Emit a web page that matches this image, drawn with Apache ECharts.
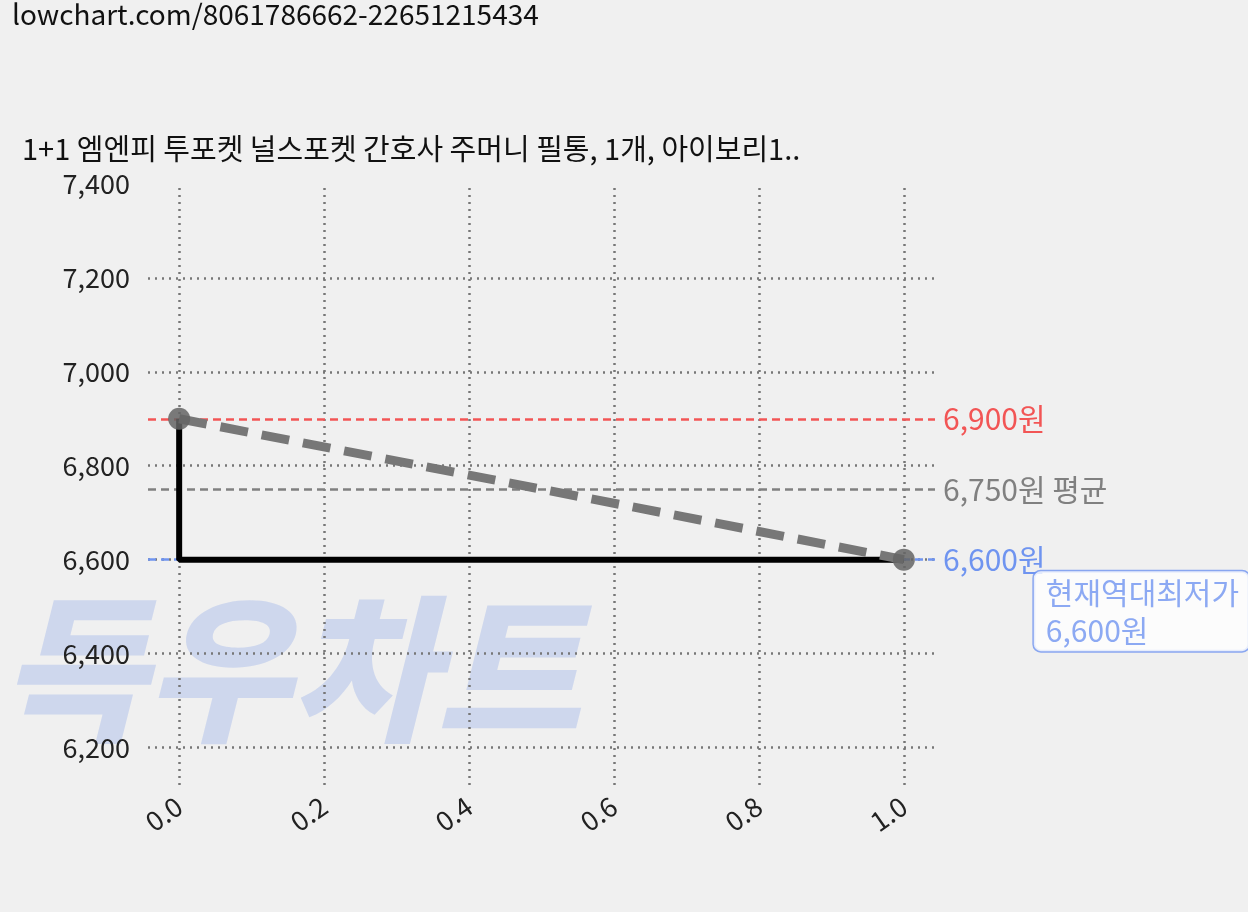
<!DOCTYPE html><html><head><meta charset="utf-8"><script src="https://cdn.jsdelivr.net/npm/echarts@6/dist/echarts.min.js"></script>
<style>body{margin:0;background:#f0f0f0}#c{width:1248px;height:912px}</style></head><body><div id="c"></div><script>
const xTicks=[0,0.2,0.4,0.6,0.8,1.0];
const yTicks=[6200,6400,6600,6800,7000,7200,7400];
const stepLine=[[0,6900],[0,6600],[1,6600]];
const trend=[[0,6900],[1,6600]];
const maxPrice=6900, avgPrice=6750, minPrice=6600;
const title='1+1 엠엔피 투포켓 널스포켓 간호사 주머니 필통, 1개, 아이보리1..';
const F='"Noto Sans CJK KR","Noto Sans",sans-serif';
const chart=echarts.init(document.getElementById('c'));
const dot={type:[2,5],color:'#777',width:2.5};
chart.setOption({
backgroundColor:'#f0f0f0',animation:false,
graphic:[
{type:'text',left:12,top:0,style:{text:'lowchart.com/8061786662-22651215434',font:'28px '+F,fill:'#111',letterSpacing:2}},
{type:'text',left:22,top:134,style:{text:title,font:'29px '+F,fill:'#111',letterSpacing:3.5}},
{type:'text',left:0,top:590,z:-1,style:{text:'득우차트',font:'italic 900 158px '+F,fill:'rgba(120,150,230,0.28)'}}
],
grid:{left:148,right:313,top:184,bottom:127},
xAxis:{type:'value',min:-0.043,max:1.043,splitLine:{show:false},axisLine:{show:false},axisTick:{show:false},
 axisLabel:{customValues:xTicks,rotate:35,fontSize:27,color:'#222',fontFamily:F,margin:18,formatter:v=>v.toFixed(1)}},
yAxis:{type:'value',min:6120,max:7400,splitLine:{show:false},axisLine:{show:false},axisTick:{show:false},
 axisLabel:{customValues:yTicks,fontSize:27,color:'#222',fontFamily:F,margin:18,formatter:v=>v.toLocaleString('en-US')}},
series:[
{type:'line',data:[],z:1,markLine:{silent:true,z:1,symbol:'none',label:{show:false},lineStyle:dot,
 data:xTicks.map(v=>({xAxis:v})).concat(yTicks.filter(v=>v<7400).map(v=>({yAxis:v})))}},
{type:'line',data:stepLine,symbol:'none',lineStyle:{color:'#000',width:6},z:5},
{type:'line',data:trend,symbol:'circle',symbolSize:22,itemStyle:{color:'rgba(100,100,100,0.85)'},lineStyle:{color:'#777',width:9,type:[28,14]},z:6,
 markLine:{silent:true,z:3,symbol:'none',label:{position:'end',fontSize:30,fontFamily:F,distance:8},
 data:[
 {yAxis:maxPrice,lineStyle:{color:'#f25555',type:[8,5],width:2.5},label:{color:'#f25555',formatter:'6,900원'}},
 {yAxis:avgPrice,lineStyle:{color:'#808080',type:[8,5],width:2.5},label:{color:'#808080',formatter:'6,750원 평균'}},
 {yAxis:minPrice,lineStyle:{color:'#6f94f0',type:[8,5],width:2.5},label:{color:'#6f94f0',formatter:'6,600원'}}
 ]}},
{type:'scatter',data:[[1,6600]],symbolSize:1,itemStyle:{color:'transparent'},z:7,
 label:{show:true,position:'bottom',offset:[130,6],formatter:'현재역대최저가\n6,600원',align:'left',
 color:'#6f94f0',fontSize:30,fontFamily:F,lineHeight:38,backgroundColor:'#fff',borderColor:'#6f94f0',borderWidth:1.5,borderRadius:7,padding:[2,10,2,12]}}
]});
</script></body></html>
